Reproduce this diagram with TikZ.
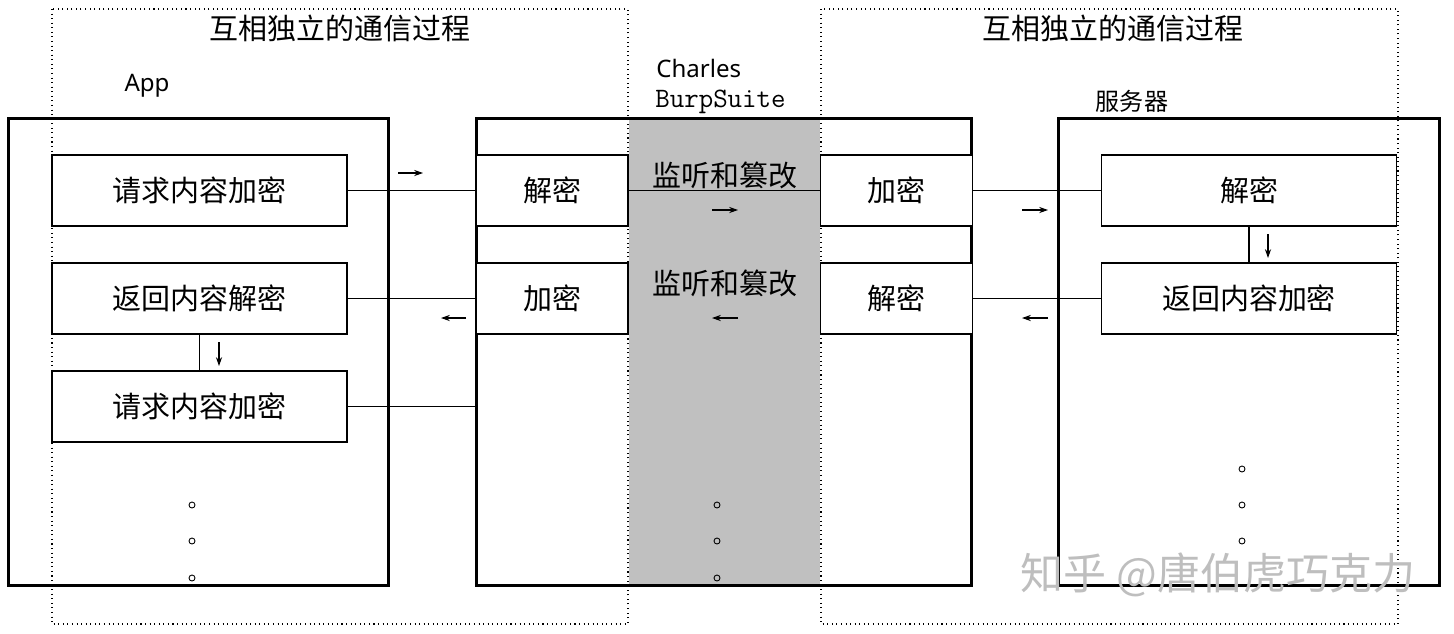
\documentclass[tikz,border=0pt]{standalone}
\usepackage{fontspec}
\newfontfamily\cjk{Noto Sans CJK SC}
\newfontfamily\latn{Noto Sans}
\usetikzlibrary{arrows.meta}
\definecolor{mitm}{RGB}{192,192,192}
\definecolor{wmgray}{RGB}{190,190,190}

\begin{document}
\begin{tikzpicture}[x=0.02cm,y=-0.02cm]
		\tikzstyle{every node}+=[inner sep=0pt]
		\tikzstyle{side}=[draw, line width=1.7pt, minimum height=9.36cm]
		\tikzstyle{job}=[draw, line width=0.75pt, fill=white, minimum height=1.42cm, font=\cjk\fontsize{16.5}{18}\selectfont]
		\tikzstyle{wide}=[job, minimum width=5.9cm]
		\tikzstyle{narrow}=[job, minimum width=3.04cm]
		\tikzstyle{link}=[line width=0.75pt]
		\tikzstyle{dir}=[line width=0.6pt, -{Stealth[length=5pt,width=3.5pt]}]
		\tikzstyle{ring}=[circle, draw, line width=0.5pt, minimum size=0.12cm]
		\tikzstyle{zone}=[draw, dotted, line width=0.6pt]
		\tikzstyle{big}=[font=\cjk\fontsize{16.5}{18}\selectfont]
		\tikzstyle{tag}=[font=\cjk\fontsize{13.7}{15}\selectfont]
		\tikzstyle{ltag}=[font=\latn\fontsize{13.7}{15}\selectfont]
		\useasboundingbox (0,0) rectangle (1454,633);
		\fill [mitm] (629,118) rectangle (820,586);
		\draw [zone] (52,9) rectangle (628,624);
		\draw [zone] (821,9) rectangle (1398,624);
		\node [big] (title1) at (340,28) {互相独立的通信过程};
		\node [big] (title2) at (1113,28) {互相独立的通信过程};
		\node [ltag] (applabel) at (147,86) {App};
		\node [ltag, anchor=west] (charles) at (656,68) {Charles};
		\node [anchor=west, font=\ttfamily\fontsize{16}{18}\selectfont] (burp) at (655,102) {BurpSuite};
		\node [tag] (srvlabel) at (1132,101) {服务器};
		\node [side, minimum width=7.62cm] (app) at (198.5,352) {};
		\node [side, minimum width=9.92cm] (proxy) at (724,352) {};
		\node [side, minimum width=7.64cm] (server) at (1249,352) {};
		\node [wide] (a1) at (199.5,190.5) {请求内容加密};
		\node [wide] (a2) at (199.5,298.5) {返回内容解密};
		\node [wide] (a3) at (199.5,406.5) {请求内容加密};
		\node [narrow] (pdec) at (552,190.5) {解密};
		\node [narrow] (penc) at (552,298.5) {加密};
		\node [narrow] (qenc) at (896.5,190.5) {加密};
		\node [narrow] (qdec) at (896.5,298.5) {解密};
		\node [wide] (s1) at (1249,190.5) {解密};
		\node [wide] (s2) at (1249,298.5) {返回内容加密};
		\node [big] (tap1) at (725,175) {监听和篡改};
		\node [big] (tap2) at (725,283) {监听和篡改};
		\draw [link] (a1.east) -- (pdec.west);
		\draw [link] (a2.east) -- (penc.west);
		\draw [link] (a3.east) -- (a3.east -| proxy.west);
		\draw [link] (pdec.east) -- (qenc.west);
		\draw [link] (qenc.east) -- (s1.west);
		\draw [link] (qdec.east) -- (s2.west);
		\draw [link] (a2.south) -- (a3.north);
		\draw [link] (s1.south) -- (s2.north);
		\draw [dir] (398,173) -- (423,173);
		\draw [dir] (466,318) -- (441,318);
		\draw [dir] (712,210) -- (738,210);
		\draw [dir] (738,318) -- (712,318);
		\draw [dir] (1022,210) -- (1048,210);
		\draw [dir] (1048,318) -- (1022,318);
		\draw [dir] (219,342) -- (219,366);
		\draw [dir] (1268,234) -- (1268,258);
		\foreach \y [count=\i] in {505,541,578} {
			\node [ring] (adot\i) at (192,\y) {};
			\node [ring] (pdot\i) at (717,\y) {};
		}
		\foreach \y [count=\i] in {469,505,541}
			\node [ring] (sdot\i) at (1242,\y) {};
		\node [text=wmgray, font=\cjk\fontsize{24.5}{26}\selectfont] (mark) at (1218,575) {知乎 @唐伯虎巧克力};
	\end{tikzpicture}
\end{document}
